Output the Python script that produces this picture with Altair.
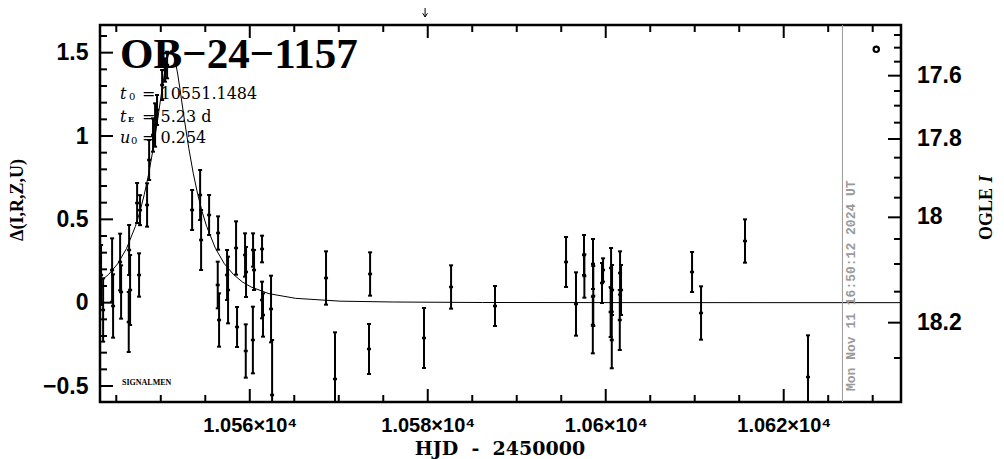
import altair as alt
import pandas as pd

# ---------------- data ----------------
obs_t = [10543.29, 10543.52, 10544.53, 10544.64, 10545.43, 10545.54, 10546.44, 10546.55, 10546.40,
         10547.34, 10547.56, 10547.67, 10548.46, 10548.69, 10549.13, 10549.36, 10549.58, 10550.15,
         10550.48, 10550.71, 10553.52, 10554.42, 10554.53, 10555.43, 10556.44, 10556.40, 10556.55,
         10557.45, 10557.56, 10558.46, 10558.57, 10559.47, 10559.58, 10559.55, 10560.37, 10560.48,
         10560.35, 10561.38, 10561.38, 10561.49, 10562.39, 10562.51, 10568.57, 10569.58, 10573.52,
         10573.40, 10579.58, 10582.62, 10587.56, 10595.54, 10596.66, 10597.56, 10597.60, 10598.57,
         10598.60, 10598.55, 10599.58, 10599.70, 10600.60, 10600.71, 10600.55, 10600.68, 10601.61,
         10601.72, 10601.58, 10609.70, 10610.71, 10615.65, 10622.73]
obs_d = [0.166, -0.044, 0.196, -0.020, 0.244, 0.064, 0.316, 0.076, -0.116,
         0.598, 0.166, 0.555, 0.586, 0.856, 1.006, 1.066, 1.156, 1.306,
         1.396, 1.426, 0.556, 0.646, 0.376, 0.526, 0.418, 0.106, -0.104,
         0.166, 0.076, 0.328, -0.146, 0.286, 0.184, -0.290, 0.316, 0.196,
         -0.224, 0.322, 0.016, -0.074, -0.038, -0.554, 0.148, -0.458, 0.172,
         -0.278, -0.212, 0.094, -0.020, 0.244, -0.008, 0.286, 0.160, 0.232,
         0.040, -0.134, 0.118, 0.196, 0.208, 0.076, -0.056, -0.224, 0.178,
         0.076, -0.104, 0.184, -0.062, 0.370, -0.446]
obs_e = [0.18, 0.19, 0.19, 0.19, 0.17, 0.16, 0.15, 0.21, 0.18,
         0.12, 0.13, 0.09, 0.13, 0.12, 0.10, 0.13, 0.09, 0.09,
         0.07, 0.08, 0.12, 0.15, 0.18, 0.12, 0.10, 0.14, 0.16,
         0.15, 0.20, 0.16, 0.12, 0.13, 0.15, 0.16, 0.10, 0.12,
         0.20, 0.08, 0.11, 0.13, 0.20, 0.33, 0.16, 0.28, 0.13,
         0.15, 0.18, 0.13, 0.12, 0.15, 0.19, 0.12, 0.13, 0.15,
         0.18, 0.17, 0.12, 0.07, 0.12, 0.15, 0.15, 0.17, 0.13,
         0.15, 0.18, 0.12, 0.16, 0.13, 0.25]

model_t = [10543.15, 10544.15, 10545.15, 10546.15, 10547.15, 10547.65, 10548.15, 10548.65,
           10549.15, 10549.65, 10550.15, 10550.40, 10550.65, 10550.90, 10551.15, 10551.40,
           10551.65, 10551.90, 10552.15, 10552.65, 10553.15, 10553.65, 10554.15, 10554.65,
           10555.15, 10556.15, 10557.15, 10558.15, 10559.15, 10560.15, 10562.15, 10565.15,
           10570.15, 10576.15, 10586.15, 10601.15, 10633.15]
model_d = [0.125, 0.170, 0.233, 0.325, 0.458, 0.545, 0.650, 0.776,
           0.926, 1.099, 1.284, 1.372, 1.445, 1.496, 1.514, 1.496,
           1.445, 1.372, 1.284, 1.099, 0.926, 0.776, 0.650, 0.545,
           0.458, 0.325, 0.233, 0.170, 0.125, 0.094, 0.054, 0.026,
           0.009, 0.004, 0.001, 0.0003, 0.0]

x_major = [10560, 10580, 10600, 10620]
x_major_labels = ["1.056×10⁴", "1.058×10⁴", "1.06×10⁴", "1.062×10⁴"]
x_minor = [10545, 10550, 10555, 10565, 10570, 10575, 10585, 10590, 10595,
           10605, 10610, 10615, 10625, 10630]
y_major = [-0.5, 0.0, 0.5, 1.0, 1.5]
y_major_labels = ["−0.5", "0", "0.5", "1", "1.5"]
y_minor = [-0.4, -0.3, -0.2, -0.1, 0.1, 0.2, 0.3, 0.4, 0.6, 0.7, 0.8, 0.9,
           1.1, 1.2, 1.3, 1.4, 1.6]
mag_major = [1.362, 0.982, 0.512, -0.120]
mag_major_labels = ["17.6", "17.8", "18", "18.2"]
mag_minor = [1.606, 1.530, 1.446, 1.270, 1.182, 1.080, 0.870, 0.750, 0.630,
             0.382, 0.232, 0.066, -0.332]

now_t = 10626.6
arrow_t = 10579.7
marker_t, marker_d = 10630.4, 1.52

event_name = "OB−24−1157"
par_t0 = "= 10551.1484"
par_tE = "= 5.23 d"
par_u0 = "= 0.254"
date_text = "Mon Nov 11 16:50:12 2024 UT"
x_title = "HJD\u00a0\u00a0-\u00a0\u00a02450000"

# ---------------- chart ----------------
W, H = 801, 377
XS = alt.Scale(domain=[10543.17, 10633.18], nice=False, zero=False)
YS = alt.Scale(domain=[-0.596, 1.666], nice=False, zero=False)


def label_expr(vals, labels):
    expr = "''"
    for v, l in reversed(list(zip(vals, labels))):
        expr = f"abs(datum.value - ({v})) < 1e-6 ? '{l}' : ({expr})"
    return expr


LABEL_FONT = "Liberation Sans"
x_axis = alt.Axis(values=x_major, labelExpr=label_expr(x_major, x_major_labels),
                  ticks=False, domain=False, grid=False, title=None,
                  labelFont=LABEL_FONT, labelFontSize=20, labelFontWeight="bold",
                  labelColor="black", labelPadding=13, labelFlush=False, labelOverlap=False)
y_axis = alt.Axis(values=y_major, labelExpr=label_expr(y_major, y_major_labels),
                  ticks=False, domain=False, grid=False, title=None,
                  labelFont=LABEL_FONT, labelFontSize=23, labelFontWeight="bold",
                  labelColor="black", labelPadding=12, labelFlush=False, labelOverlap=False)


def X(f):
    return alt.X(f, type="quantitative", scale=XS, axis=x_axis)


def Y(f):
    return alt.Y(f, type="quantitative", scale=YS, axis=y_axis)


obs = pd.DataFrame({"t": obs_t, "d": obs_d, "e": obs_e})
obs["lo"] = obs["d"] - obs["e"]
obs["hi"] = obs["d"] + obs["e"]
model = pd.DataFrame({"t": model_t, "d": model_d})
one = pd.DataFrame({"a": [0]})

layers = []

# error bars
layers.append(alt.Chart(obs).mark_rule(color="black", strokeWidth=2, clip=True)
              .encode(x=X("t"), y=Y("lo"), y2="hi"))
for f in ["lo", "hi"]:
    layers.append(alt.Chart(obs).mark_tick(color="black", orient="horizontal", size=4,
                                           thickness=2, clip=True, opacity=1)
                  .encode(x=X("t"), y=Y(f)))
layers.append(alt.Chart(obs).mark_tick(color="black", orient="horizontal", size=4,
                                       thickness=2.5, clip=True, opacity=1)
              .encode(x=X("t"), y=Y("d")))

# model curve
layers.append(alt.Chart(model).mark_line(color="black", strokeWidth=1, clip=True)
              .encode(x=X("t"), y=Y("d")))

# inward ticks
xmaj = pd.DataFrame({"t": x_major})
xmin = pd.DataFrame({"t": x_minor})
for df, ln in [(xmaj, 13), (xmin, 7)]:
    layers.append(alt.Chart(df).mark_rule(color="black", strokeWidth=2)
                  .encode(x=X("t"), y=alt.value(H), y2=alt.value(H - ln)))
    layers.append(alt.Chart(df).mark_rule(color="black", strokeWidth=2)
                  .encode(x=X("t"), y=alt.value(0), y2=alt.value(ln)))
ymaj = pd.DataFrame({"v": y_major})
ymin = pd.DataFrame({"v": y_minor})
for df, ln in [(ymaj, 13), (ymin, 7)]:
    layers.append(alt.Chart(df).mark_rule(color="black", strokeWidth=2)
                  .encode(y=Y("v"), x=alt.value(0), x2=alt.value(ln)))
mmaj = pd.DataFrame({"v": mag_major, "lab": mag_major_labels})
mmin = pd.DataFrame({"v": mag_minor})
for df, ln in [(mmaj, 13), (mmin, 7)]:
    layers.append(alt.Chart(df).mark_rule(color="black", strokeWidth=2)
                  .encode(y=Y("v"), x=alt.value(W), x2=alt.value(W - ln)))
layers.append(alt.Chart(mmaj).mark_text(align="left", baseline="middle", font=LABEL_FONT,
                                        fontSize=23, fontWeight="bold", color="black")
              .encode(y=Y("v"), x=alt.value(W + 16), text="lab:N"))

# current date line and stamp
layers.append(alt.Chart(pd.DataFrame({"t": [now_t]}))
              .mark_rule(color="#9a9a9a", strokeWidth=1)
              .encode(x=X("t"), y=alt.value(0), y2=alt.value(H)))


def txt(s, x, y, **kw):
    return alt.Chart(one).mark_text(**kw).encode(x=alt.value(x), y=alt.value(y),
                                                 text=alt.value(s))


layers.append(txt(date_text, 755, 366, angle=270, align="left", baseline="alphabetic",
                  font="Liberation Mono", fontWeight="bold", fontSize=13, color="#9a9a9a"))

# marker circle
layers.append(alt.Chart(pd.DataFrame({"t": [marker_t], "d": [marker_d]}))
              .mark_point(shape="circle", size=28, filled=False, strokeWidth=2.2, color="black",
                          opacity=1)
              .encode(x=X("t"), y=Y("d")))

# arrow above plot
arr = pd.DataFrame({"t": [arrow_t]})
layers.append(alt.Chart(arr).mark_rule(color="black", strokeWidth=1)
              .encode(x=X("t"), y=alt.value(-17), y2=alt.value(-8)))
layers.append(alt.Chart(arr).mark_point(shape="M-1,-1.6L0,0L1,-1.6", size=22, filled=False,
                                        strokeWidth=1, color="black", opacity=1)
              .encode(x=X("t"), y=alt.value(-8)))

# texts
SERIF = "Liberation Serif"
layers.append(txt(event_name, 20, 43, align="left", baseline="alphabetic", font=SERIF,
                  fontSize=43, fontWeight="bold", color="black"))
PF = "DejaVu Serif"
layers.append(txt("t", 20, 69, align="left", font=PF, fontStyle="italic", fontSize=16))
layers.append(txt("0", 29, 72, align="left", font=PF, fontSize=10))
layers.append(txt(par_t0, 42, 69, align="left", font=PF, fontSize=16))
layers.append(txt("t", 20, 92, align="left", font=PF, fontStyle="italic", fontSize=16))
layers.append(txt("E", 28, 95, align="left", font=PF, fontSize=8, fontWeight="bold"))
layers.append(txt(par_tE, 42, 92, align="left", font=PF, fontSize=16))
layers.append(txt("u", 20, 113, align="left", font=PF, fontStyle="italic", fontSize=16))
layers.append(txt("0", 31, 116, align="left", font=PF, fontSize=10))
layers.append(txt(par_u0, 42, 113, align="left", font=PF, fontSize=16))
layers.append(txt("SIGNALMEN", 22, 358, align="left", font=SERIF, fontSize=8, fontWeight="bold"))

# axis titles
layers.append(txt(x_title, 400, 430, align="center", baseline="alphabetic",
                  font="DejaVu Serif", fontSize=19, fontWeight="bold"))
layers.append(txt("Δ(I,R,Z,U)", -82, 175, angle=270, align="center", baseline="middle",
                  font=SERIF, fontSize=18, fontWeight="bold"))
layers.append(txt("OGLE", 887, 215, angle=270, align="left", baseline="middle",
                  font=SERIF, fontSize=18, fontWeight="bold"))
layers.append(txt("I", 887, 154, angle=270, align="center", baseline="middle",
                  font=SERIF, fontSize=18, fontWeight="bold", fontStyle="italic"))

chart = alt.layer(*layers).properties(
    width=W, height=H,
    autosize=alt.AutoSizeParams(type="none"),
    padding={"left": 92, "top": 17, "right": 95, "bottom": 57},
    background="white",
).configure_view(stroke="black", strokeWidth=2.5)

chart.save("out.html", embed_options={"renderer": "svg", "actions": False})
